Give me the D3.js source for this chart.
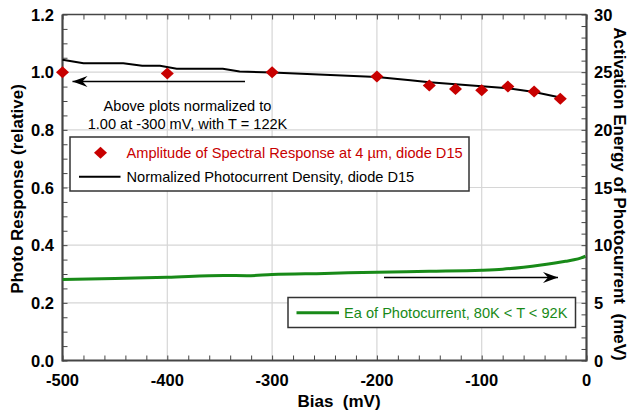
<!DOCTYPE html>
<html><head><meta charset="utf-8">
<script src="https://cdn.jsdelivr.net/npm/d3@7"></script>
<style>
body{margin:0;background:#fff;}
svg{display:block;font-family:"Liberation Sans",Arial,sans-serif;}
</style></head>
<body>
<svg id="chart" width="632" height="413"></svg>
<script>
// ---- data ----
const biasTicks = [-500,-400,-300,-200,-100,0];
const leftTicks = [0.0,0.2,0.4,0.6,0.8,1.0,1.2];
const rightTicks = [0,5,10,15,20,25,30];

const curBias = [-500,-480,-442,-424,-407,-391,-347,-331,-300,-250,-200,-168,-150,-125,-100,-75,-50,-25];
const curNorm = [1.043,1.031,1.031,1.022,1.022,1.012,1.012,1.002,0.999,0.991,0.983,0.972,0.965,0.958,0.951,0.944,0.931,0.912];

const specBias = [-500,-400,-300,-200,-150,-125,-100,-75,-50,-25];
const specAmp  = [1.0,0.995,1.0,0.985,0.954,0.942,0.937,0.950,0.933,0.908];

const eaBias = [-500,-450,-400,-346,-324,-300,-250,-200,-150,-100,-80,-60,-45,-30,-20,-12,-5,-1];
const eaMeV  = [7.02,7.12,7.22,7.37,7.35,7.46,7.55,7.66,7.74,7.83,7.92,8.09,8.25,8.45,8.6,8.73,8.9,9.04];

// ---- layout ----
const svg = d3.select("#chart");
const L = 62.5, R = 586.5, T = 14.5, B = 360.5;
const x = d3.scaleLinear().domain([-500,0]).range([L,R]);
const y = d3.scaleLinear().domain([0,1.2]).range([B,T]);
const y2 = d3.scaleLinear().domain([0,30]).range([B,T]);

const axisCol = "#454545", gridCol = "#d6d6d6";
const red = "#c80000", green = "#188a18";
const legendFont = 14.6;

// grid
const g = svg.append("g");
g.selectAll("line.vg").data(biasTicks.slice(1,-1)).join("line")
  .attr("x1",d=>x(d)).attr("x2",d=>x(d)).attr("y1",T).attr("y2",B)
  .attr("stroke",gridCol).attr("stroke-width",1.2);
g.selectAll("line.hg").data(leftTicks.slice(1,-1)).join("line")
  .attr("y1",d=>y(d)).attr("y2",d=>y(d)).attr("x1",L).attr("x2",R)
  .attr("stroke",gridCol).attr("stroke-width",1.2);

// axes with inward ticks
function styleAxis(sel){
  sel.select(".domain").remove();
  sel.selectAll(".tick line").attr("stroke",axisCol).attr("stroke-width",1);
}
const xMinor = d3.range(-500,1,20);
const yMinor = d3.range(0,1.2001,0.05);
const y2Minor = d3.range(0,30.001,1);

svg.append("g").attr("transform",`translate(0,${B})`)
  .call(d3.axisBottom(x).tickValues(xMinor).tickSize(-5).tickFormat(""))
  .call(styleAxis);
svg.append("g").attr("transform",`translate(0,${T})`)
  .call(d3.axisTop(x).tickValues(xMinor).tickSize(-5).tickFormat(""))
  .call(styleAxis);
svg.append("g").attr("transform",`translate(${L},0)`)
  .call(d3.axisLeft(y).tickValues(yMinor).tickSize(-5).tickFormat(""))
  .call(styleAxis);
svg.append("g").attr("transform",`translate(${R},0)`)
  .call(d3.axisRight(y2).tickValues(y2Minor).tickSize(-5).tickFormat(""))
  .call(styleAxis);

// frame
svg.append("line").attr("x1",L).attr("x2",R).attr("y1",T).attr("y2",T).attr("stroke",axisCol).attr("stroke-width",1.5);
svg.append("line").attr("x1",L).attr("x2",R).attr("y1",B).attr("y2",B).attr("stroke",axisCol).attr("stroke-width",2.2);
svg.append("line").attr("x1",L).attr("x2",L).attr("y1",T).attr("y2",B+1).attr("stroke",axisCol).attr("stroke-width",2.2);
svg.append("line").attr("x1",R).attr("x2",R).attr("y1",T).attr("y2",B+1).attr("stroke",axisCol).attr("stroke-width",2.2);

// tick labels
const tl = svg.append("g").attr("font-weight","bold").attr("font-size",16.5).attr("fill","#000");
tl.selectAll("text.xl").data(biasTicks).join("text")
  .attr("x",d=>x(d)).attr("y",386).attr("text-anchor","middle").text(d=>d);
tl.selectAll("text.yl").data(leftTicks).join("text")
  .attr("x",54).attr("y",d=>y(d)+6).attr("text-anchor","end").text(d=>d.toFixed(1));
tl.selectAll("text.y2l").data(rightTicks).join("text")
  .attr("x",594).attr("y",d=>y2(d)+6).attr("text-anchor","start").text(d=>d);

// axis titles
svg.append("text").attr("x",339).attr("y",407).attr("text-anchor","middle")
  .attr("font-weight","bold").attr("font-size",17).style("white-space","pre").text("Bias  (mV)");
svg.append("text").attr("transform","translate(23,189) rotate(-90)").attr("text-anchor","middle")
  .attr("font-weight","bold").attr("font-size",17).text("Photo Response (relative)");
svg.append("text").attr("transform","translate(614,194) rotate(90)").attr("text-anchor","middle")
  .attr("font-weight","bold").attr("font-size",17).style("white-space","pre").text("Activation Energy of Photocurrent  (meV)");

// lines
const lineGen = d3.line();
svg.append("path")
  .attr("d",lineGen(curBias.map((b,i)=>[x(b),y(curNorm[i])])))
  .attr("fill","none").attr("stroke","#000").attr("stroke-width",2);
svg.append("path")
  .attr("d",d3.line().curve(d3.curveMonotoneX)(eaBias.map((b,i)=>[x(b),y2(eaMeV[i])])))
  .attr("fill","none").attr("stroke",green).attr("stroke-width",3);

// diamonds
const diamond = "M0,-6L6.5,0L0,6L-6.5,0Z";
svg.selectAll("path.dm").data(specBias).join("path")
  .attr("transform",(d,i)=>`translate(${x(d)},${y(specAmp[i])})`)
  .attr("d",diamond).attr("fill",red);

// arrows
function arrow(x1,x2,yy){
  svg.append("line").attr("x1",x1).attr("x2",x2).attr("y1",yy).attr("y2",yy)
    .attr("stroke","#000").attr("stroke-width",1.3);
  const dir = x2 > x1 ? 1 : -1;
  const tip = x2;
  svg.append("path")
    .attr("d",`M${tip},${yy}L${tip-dir*15},${yy-5.5}L${tip-dir*10},${yy}L${tip-dir*15},${yy+5.5}Z`)
    .attr("fill","#000");
}
arrow(245, 72.5, 81.5);
arrow(384, 558, 277.5);

// annotation
const ann = svg.append("text").attr("font-size",legendFont).attr("text-anchor","middle").attr("fill","#000");
ann.append("tspan").attr("x",187.5).attr("y",111).text("Above plots normalized to");
ann.append("tspan").attr("x",187.5).attr("y",128.5).text("1.00 at -300 mV, with T = 122K");

// legend 1
svg.append("rect").attr("x",70).attr("y",137).attr("width",399).attr("height",54)
  .attr("fill","#fff").attr("stroke","#333").attr("stroke-width",1.5);
svg.append("path").attr("transform","translate(100.5,152.7)").attr("d",diamond).attr("fill",red);
svg.append("text").attr("x",126.5).attr("y",157.9).attr("font-size",legendFont).attr("fill",red)
  .text("Amplitude of Spectral Response at 4 µm, diode D15");
svg.append("line").attr("x1",79).attr("x2",120.5).attr("y1",176.7).attr("y2",176.7)
  .attr("stroke","#000").attr("stroke-width",2);
svg.append("text").attr("x",126.5).attr("y",181.9).attr("font-size",legendFont).attr("fill","#000")
  .text("Normalized Photocurrent Density, diode D15");

// legend 2
svg.append("rect").attr("x",288).attr("y",297.5).attr("width",287.5).attr("height",30)
  .attr("fill","#fff").attr("stroke","#333").attr("stroke-width",1.5);
svg.append("line").attr("x1",296.5).attr("x2",339).attr("y1",312.7).attr("y2",312.7)
  .attr("stroke",green).attr("stroke-width",3);
svg.append("text").attr("x",344).attr("y",317.9).attr("font-size",legendFont).attr("fill",green)
  .text("Ea of Photocurrent, 80K < T < 92K");
</script>
</body></html>
